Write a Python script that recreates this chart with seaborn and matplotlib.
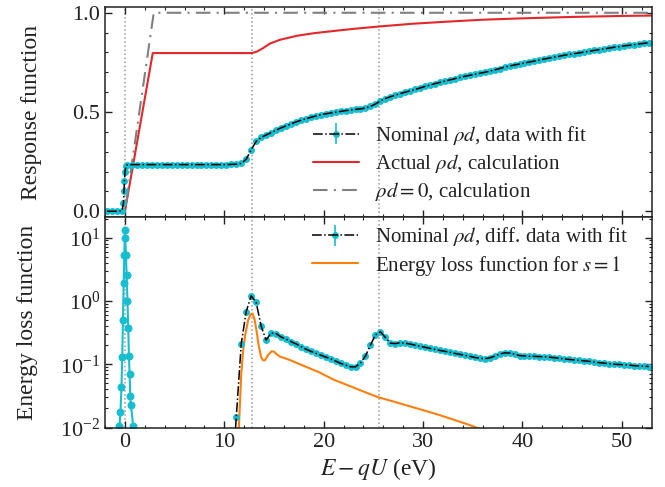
import numpy as np
import seaborn as sns
import matplotlib.pyplot as plt
from matplotlib.ticker import MultipleLocator, LogLocator, NullFormatter
from matplotlib.lines import Line2D

# response function (top panel), data points with fit
x_resp = np.r_[[-1.8, -1.3, -0.8, -0.3, -0.15, -0.1, -0.05, 0.0, 0.1, 0.2],
               np.arange(0.7, 52.75, 0.5)]
y_resp = [0.0, 0.0, 0.0, 0.002, 0.04, 0.1, 0.15, 0.2, 0.227, 0.233,
          0.235, 0.235, 0.235, 0.235, 0.235, 0.235, 0.235, 0.235, 0.235, 0.235,
          0.235, 0.235, 0.235, 0.235, 0.235, 0.235, 0.235, 0.235, 0.235, 0.235,
          0.236, 0.237, 0.241, 0.262, 0.31, 0.352, 0.372, 0.384, 0.396, 0.408,
          0.42, 0.43, 0.44, 0.45, 0.458, 0.466, 0.473, 0.48, 0.486, 0.491,
          0.495, 0.499, 0.503, 0.507, 0.51, 0.513, 0.516, 0.52, 0.528, 0.54,
          0.556, 0.568, 0.577, 0.585, 0.593, 0.6, 0.607, 0.614, 0.621, 0.629,
          0.636, 0.643, 0.649, 0.656, 0.662, 0.668, 0.674, 0.68, 0.685, 0.69,
          0.695, 0.7, 0.706, 0.712, 0.719, 0.726, 0.732, 0.737, 0.742, 0.747,
          0.752, 0.757, 0.762, 0.767, 0.772, 0.777, 0.781, 0.786, 0.79, 0.794,
          0.798, 0.802, 0.806, 0.81, 0.814, 0.818, 0.822, 0.826, 0.829, 0.833,
          0.836, 0.839, 0.843, 0.846, 0.849]

# actual rho*d calculation
x_actual = [-2, 0, 2.8, 12.8, 13.3, 13.9, 14.6, 15.6, 17.3, 19.0, 20.6, 23.0,
            25.6, 29.0, 32.7, 36.0, 40.0, 45.0, 50.0, 53.0]
y_actual = [0, 0, 0.797, 0.797, 0.805, 0.822, 0.845, 0.864, 0.884, 0.897, 0.906,
            0.919, 0.931, 0.945, 0.956, 0.965, 0.972, 0.979, 0.984, 0.986]

# rho*d = 0 calculation
x_zero = [-2, 0, 2.9, 53]
y_zero = [0, 0, 1, 1]

# differentiated data (bottom panel): elastic peak and inelastic part
x_peak = [-0.55, -0.45, -0.35, -0.27, -0.2, -0.13, -0.06, 0.0,
          0.03, 0.1, 0.17, 0.25, 0.33, 0.4, 0.47, 0.53, 0.6, 0.83]
y_peak = [0.0104, 0.0175, 0.043, 0.131, 0.5, 1.9, 5.4, 13.4,
          10.0, 5.4, 2.6, 1.0, 0.38, 0.134, 0.069, 0.032, 0.023, 0.0104]

x_diff = np.arange(11.2, 52.75, 0.5)
y_diff = [0.0145, 0.21, 0.68, 1.2, 0.95, 0.40, 0.24, 0.31, 0.305, 0.27,
          0.25, 0.228, 0.21, 0.19, 0.173, 0.16, 0.149, 0.139, 0.13, 0.122,
          0.112, 0.103, 0.097, 0.091, 0.091, 0.105, 0.135, 0.2, 0.29, 0.325,
          0.265, 0.215, 0.212, 0.218, 0.215, 0.208, 0.2, 0.192, 0.185, 0.178,
          0.171, 0.165, 0.16, 0.154, 0.148, 0.143, 0.138, 0.133, 0.128, 0.124,
          0.122, 0.126, 0.134, 0.145, 0.151, 0.15, 0.144, 0.137, 0.135, 0.134,
          0.133, 0.132, 0.131, 0.129, 0.127, 0.124, 0.121, 0.119, 0.117, 0.115,
          0.113, 0.111, 0.108, 0.106, 0.104, 0.102, 0.1, 0.099, 0.098, 0.097,
          0.095, 0.094, 0.093, 0.092]

# energy loss function for s = 1
x_eloss = [11.4, 11.55, 11.7, 11.9, 12.1, 12.4, 12.65, 12.85, 13.05, 13.25,
           13.45, 13.7, 13.9, 14.1, 14.4, 14.75, 15.0, 15.3, 15.6, 16.5,
           18.0, 19.5, 21.0, 22.5, 24.0, 25.5, 27.0, 28.5, 30.0, 31.5,
           33.0, 34.5, 36.0]
y_eloss = [0.006, 0.02, 0.07, 0.17, 0.29, 0.5, 0.62, 0.63, 0.5, 0.33,
           0.2, 0.13, 0.115, 0.116, 0.14, 0.16, 0.158, 0.142, 0.132, 0.118,
           0.094, 0.075, 0.057, 0.046, 0.037, 0.030, 0.0258, 0.022, 0.0188, 0.016,
           0.0134, 0.0112, 0.0092]

vlines = [0, 12.8, 25.6]

sns.set_theme(style="ticks")
plt.rcParams['font.family'] = ['Liberation Serif', 'DejaVu Serif']
plt.rcParams['mathtext.fontset'] = 'stix'
plt.rcParams['axes.linewidth'] = 1.1
plt.rcParams['axes.edgecolor'] = '#222222'
plt.rcParams['text.color'] = '#222222'
plt.rcParams['axes.labelcolor'] = '#222222'
for a in ('x', 'y'):
    plt.rcParams[a + 'tick.direction'] = 'in'
    plt.rcParams[a + 'tick.major.size'] = 5
    plt.rcParams[a + 'tick.minor.size'] = 2.5
    plt.rcParams[a + 'tick.major.width'] = 1.0
    plt.rcParams[a + 'tick.minor.width'] = 0.8
    plt.rcParams[a + 'tick.labelsize'] = 16
    plt.rcParams[a + 'tick.color'] = '#222222'

cyan = '#17becf'
red = '#e3272b'
orange = '#ff7f0e'
gray = '#808080'

fig = plt.figure(figsize=(6.65, 4.87), dpi=100)
ax1 = fig.add_axes([0.158, 0.554, 0.822, 0.432])
ax2 = fig.add_axes([0.158, 0.121, 0.822, 0.433], sharex=ax1)

for ax in (ax1, ax2):
    for v in vlines:
        ax.axvline(v, color='#999999', ls=':', lw=1.1, zorder=0)

# top panel
eb1 = ax1.errorbar(x_resp, y_resp, yerr=np.zeros(len(y_resp)), fmt='o', color=cyan,
                   ms=4, elinewidth=1.2, capsize=0, zorder=2)
fit1, = ax1.plot(x_resp, y_resp, color='black', ls='-.', lw=1.1, zorder=3)
sns.lineplot(x=x_actual, y=y_actual, ax=ax1, color=red, lw=1.5, estimator=None, sort=False)
sns.lineplot(x=x_zero, y=y_zero, ax=ax1, color=gray, lw=1.5, ls=(0, (7, 3, 1, 3)),
             estimator=None, sort=False)

ax1.set_ylim(-0.03, 1.03)
ax1.set_xlim(-2, 53)
ax1.yaxis.set_major_locator(MultipleLocator(0.5))
ax1.yaxis.set_minor_locator(MultipleLocator(0.1))
ax1.xaxis.set_major_locator(MultipleLocator(10))
ax1.xaxis.set_minor_locator(MultipleLocator(2))
ax1.tick_params(which='both', top=True, right=True, labelbottom=False)
ax1.set_ylabel('Response function', fontsize=17, labelpad=22)

h_red = Line2D([], [], color=red, lw=1.5)
h_gray = Line2D([], [], color=gray, lw=1.5, ls=(0, (7, 3, 1, 3)))
ax1.legend([(eb1, fit1), h_red, h_gray],
           ['Nominal $\\rho d$, data with fit', 'Actual $\\rho d$, calculation',
            '$\\rho d = 0$, calculation'],
           loc='lower right', bbox_to_anchor=(0.906, 0.006), frameon=False, fontsize=15,
           handlelength=2.2, handletextpad=0.8, labelspacing=0.25, borderaxespad=0.2)

# bottom panel
sns.lineplot(x=x_peak, y=y_peak, ax=ax2, color=cyan, lw=1.5, marker='o', ms=5,
             mec=cyan, estimator=None, sort=False)
eb2 = ax2.errorbar(x_diff, y_diff, yerr=np.zeros(len(y_diff)), fmt='o', color=cyan,
                   ms=4, elinewidth=1.2, capsize=0, zorder=2)
fit2, = ax2.plot(np.r_[10.9, x_diff], np.r_[0.003, y_diff], color='black', ls='-.',
                 lw=1.1, zorder=3)
sns.lineplot(x=x_eloss, y=y_eloss, ax=ax2, color=orange, lw=1.5, estimator=None, sort=False)

ax2.set_yscale('log')
ax2.set_ylim(0.0098, 21)
ax2.set_xlim(-2, 53)
ax2.yaxis.set_major_locator(LogLocator(base=10, numticks=10))
ax2.yaxis.set_minor_locator(LogLocator(base=10, subs=np.arange(2, 10), numticks=10))
ax2.yaxis.set_minor_formatter(NullFormatter())
ax2.tick_params(which='both', top=True, right=True)
ax2.set_ylabel('Energy loss function', fontsize=17, labelpad=16)
ax2.set_xlabel('$E - qU$ (eV)', fontsize=17, labelpad=3)

h_or = Line2D([], [], color=orange, lw=1.5)
ax2.legend([(eb2, fit2), h_or],
           ['Nominal $\\rho d$, diff. data with fit', 'Energy loss function for $s = 1$'],
           loc='upper right', bbox_to_anchor=(0.9795, 1.02), frameon=False, fontsize=15,
           handlelength=2.2, handletextpad=0.8, labelspacing=0.25, borderaxespad=0.2)

fig.savefig('out.png', dpi=100)
